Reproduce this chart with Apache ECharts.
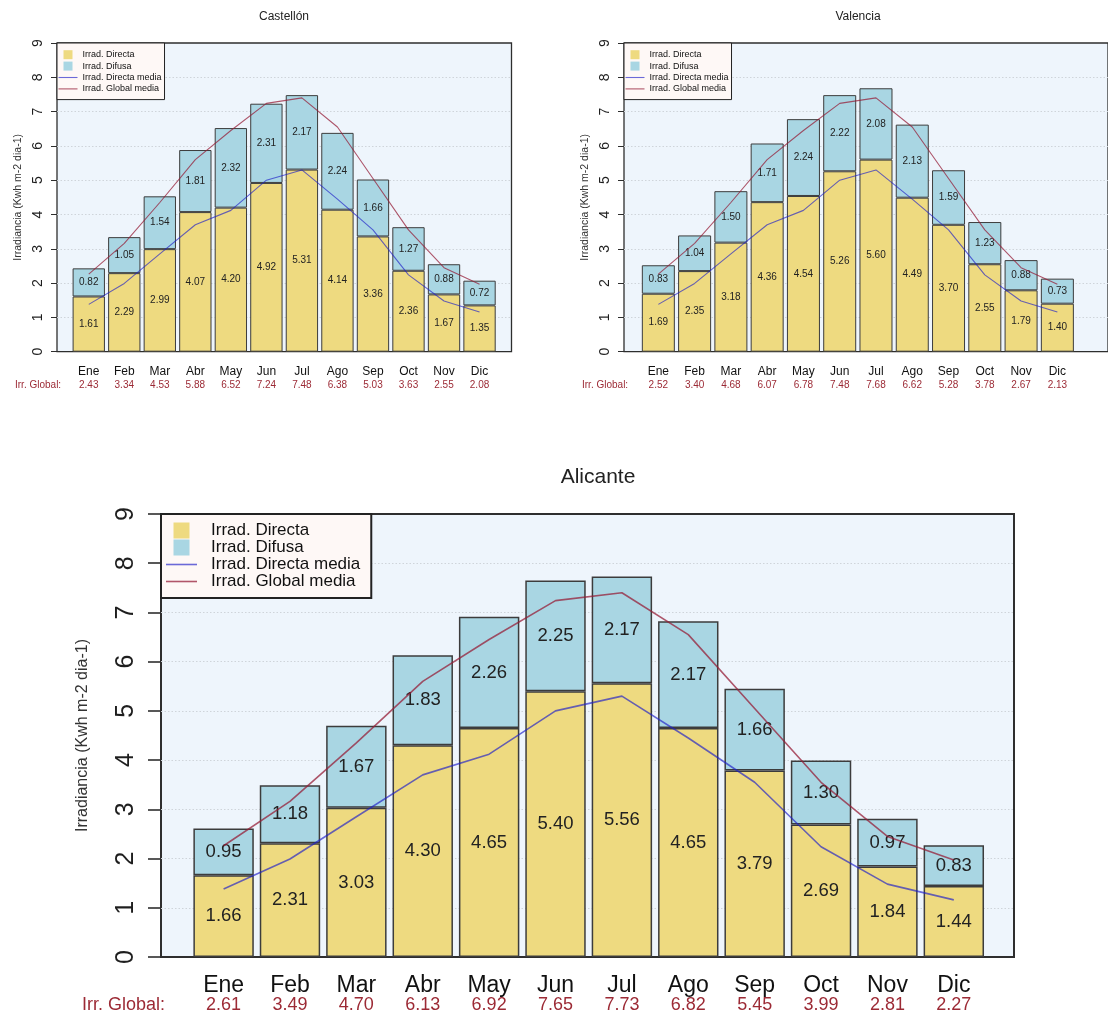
<!DOCTYPE html>
<html>
<head>
<meta charset="utf-8">
<title>Irradiancia mensual</title>
<script src="https://cdn.jsdelivr.net/npm/echarts@6/dist/echarts.min.js"></script>
<style>
  html, body { margin: 0; padding: 0; background: #ffffff; }
  #chart { width: 1108px; height: 1014px; }
</style>
</head>
<body>
<div id="chart"></div>
<script>
// Months shown on the category axis
const months = ['Ene', 'Feb', 'Mar', 'Abr', 'May', 'Jun', 'Jul', 'Ago', 'Sep', 'Oct', 'Nov', 'Dic'];

// Castellón (kWh m-2 día-1)
const castellonDirecta = [1.61, 2.29, 2.99, 4.07, 4.20, 4.92, 5.31, 4.14, 3.36, 2.36, 1.67, 1.35];
const castellonDifusa  = [0.82, 1.05, 1.54, 1.81, 2.32, 2.31, 2.17, 2.24, 1.66, 1.27, 0.88, 0.72];
const castellonGlobal  = [2.43, 3.34, 4.53, 5.88, 6.52, 7.24, 7.48, 6.38, 5.03, 3.63, 2.55, 2.08];

// Valencia
const valenciaDirecta = [1.69, 2.35, 3.18, 4.36, 4.54, 5.26, 5.60, 4.49, 3.70, 2.55, 1.79, 1.40];
const valenciaDifusa  = [0.83, 1.04, 1.50, 1.71, 2.24, 2.22, 2.08, 2.13, 1.59, 1.23, 0.88, 0.73];
const valenciaGlobal  = [2.52, 3.40, 4.68, 6.07, 6.78, 7.48, 7.68, 6.62, 5.28, 3.78, 2.67, 2.13];

// Alicante
const alicanteDirecta = [1.66, 2.31, 3.03, 4.30, 4.65, 5.40, 5.56, 4.65, 3.79, 2.69, 1.84, 1.44];
const alicanteDifusa  = [0.95, 1.18, 1.67, 1.83, 2.26, 2.25, 2.17, 2.17, 1.66, 1.30, 0.97, 0.83];
const alicanteGlobal  = [2.61, 3.49, 4.70, 6.13, 6.92, 7.65, 7.73, 6.82, 5.45, 3.99, 2.81, 2.27];

// Regional mean curves drawn over every panel
const directaMedia = [1.38, 1.99, 2.85, 3.70, 4.12, 5.00, 5.30, 4.45, 3.55, 2.24, 1.48, 1.16];
const globalMedia  = [2.26, 3.16, 4.35, 5.60, 6.45, 7.24, 7.40, 6.55, 5.05, 3.55, 2.45, 1.97];

const FONT = "'Liberation Sans', Arial, Helvetica, sans-serif";
const COL_DIRECTA = '#EEDA80';
const COL_DIFUSA = '#A9D6E3';
const COL_LINE_DIRECTA = 'rgba(30,30,200,0.66)';
const COL_LINE_GLOBAL = 'rgba(150,30,55,0.74)';
const COL_GLOBAL_TEXT = '#9C2A35';

// Type sizes for the two panel scales
const small = {
  title: 12, yLabel: 14, yLabelMargin: 12, yName: 10.5, yNameGap: 33, tick: 6,
  month: 12, monthLH: 14, glob: 10, globLH: 12.6, xMargin: 13,
  value: 10, legend: 9, legendLH: 11.4, legendIconW: 19, legendIconH: 9,
  legendPad: [6, 3, 5, 1.5], legendTextPad: 0, legendBorder: 1,
  frameBorder: 1.3, barBorder: 1, lineW: 1.1
};
const large = {
  title: 21, yLabel: 25, yLabelMargin: 22, yName: 16, yNameGap: 70, tick: 13,
  month: 23, monthLH: 20, glob: 18, globLH: 18, xMargin: 19,
  value: 18.5, legend: 17, legendLH: 16.5, legendIconW: 31, legendIconH: 16,
  legendPad: [8, 11, 8, 5], legendTextPad: 9, legendBorder: 2,
  frameBorder: 2, barBorder: 1.5, lineW: 1.6
};

// Panel placement: plot frame and the span occupied by the twelve bars
const panels = [
  { title: 'Castellón', directa: castellonDirecta, difusa: castellonDifusa, global: castellonGlobal,
    box: { l: 57, t: 43, r: 511.5, b: 351.7 }, bars: { l: 71, r: 497.3 },
    titlePos: [284, 17], globLabelX: 15, st: small },
  { title: 'Valencia', directa: valenciaDirecta, difusa: valenciaDifusa, global: valenciaGlobal,
    box: { l: 624, t: 43, r: 1112, b: 351.7 }, bars: { l: 640.2, r: 1075.5 },
    titlePos: [858, 17], globLabelX: 582, st: small },
  { title: 'Alicante', directa: alicanteDirecta, difusa: alicanteDifusa, global: alicanteGlobal,
    box: { l: 161, t: 514, r: 1014, b: 957 }, bars: { l: 190.4, r: 987 },
    titlePos: [598, 477], globLabelX: 82, st: large }
];

const squareIcon = 'path://M0,0H10V10H0Z';
// thin horizontal stroke used as the legend key of the mean curves
const lineIcon = s => 'path://M0,0H' + s.legendIconW + 'V' + s.lineW + 'H0Z';

const option = {
  animation: false,
  backgroundColor: '#ffffff',
  textStyle: { fontFamily: FONT },
  grid: [], xAxis: [], yAxis: [], series: [], legend: [], graphic: []
};

panels.forEach((p, i) => {
  const s = p.st;
  const fi = 2 * i, di = 2 * i + 1;
  const h = p.box.b - p.box.t;

  // Frame grid: background, border, y axis with dotted guides
  option.grid.push({
    left: p.box.l, top: p.box.t, width: p.box.r - p.box.l, height: h,
    show: true, backgroundColor: '#EEF5FC', borderColor: '#2e2e2e', borderWidth: s.frameBorder
  });
  option.xAxis.push({ gridIndex: fi, type: 'value', min: 0, max: 1, show: false });
  option.yAxis.push({
    gridIndex: fi, type: 'value', min: 0, max: 9, interval: 1,
    axisLine: { show: false },
    axisTick: { show: true, inside: false, length: s.tick, lineStyle: { color: '#2e2e2e', width: s.frameBorder * 0.8 } },
    axisLabel: { rotate: 90, fontSize: s.yLabel, color: '#1e1e1e', margin: s.yLabelMargin, fontFamily: FONT },
    splitLine: {
      show: true, showMinLine: false, showMaxLine: false,
      lineStyle: { color: '#cfd4da', type: [1.5, 2], width: 1 }
    },
    name: 'Irradiancia (Kwh m-2 dia-1)', nameLocation: 'middle', nameRotate: 90, nameGap: s.yNameGap,
    nameTextStyle: { fontSize: s.yName, color: '#333', fontFamily: FONT }
  });

  // Data grid: category band holding the bars and mean curves
  option.grid.push({
    left: p.bars.l, top: p.box.t, width: p.bars.r - p.bars.l, height: h
  });
  const glob = p.global;
  option.xAxis.push({
    gridIndex: di, type: 'category', data: months,
    axisLine: { show: false }, axisTick: { show: false },
    axisLabel: {
      interval: 0, margin: s.xMargin, fontFamily: FONT,
      formatter: (v, idx) => '{m|' + v + '}\n{g|' + glob[idx].toFixed(2) + '}',
      rich: {
        m: { fontSize: s.month, lineHeight: s.monthLH, color: '#111', fontFamily: FONT },
        g: { fontSize: s.glob, lineHeight: s.globLH, color: COL_GLOBAL_TEXT, fontFamily: FONT }
      }
    }
  });
  option.yAxis.push({ gridIndex: di, type: 'value', min: 0, max: 9, show: false });

  const valueLabel = {
    show: true, position: 'inside', fontSize: s.value, color: '#222', fontFamily: FONT,
    formatter: d => d.value.toFixed(2)
  };
  option.series.push({
    type: 'bar', name: 'Irrad. Directa', xAxisIndex: di, yAxisIndex: di, stack: 'irr' + i,
    data: p.directa, barCategoryGap: '9%',
    itemStyle: { color: COL_DIRECTA, borderColor: '#3c3c3c', borderWidth: s.barBorder },
    label: valueLabel
  });
  option.series.push({
    type: 'bar', name: 'Irrad. Difusa', xAxisIndex: di, yAxisIndex: di, stack: 'irr' + i,
    data: p.difusa, barCategoryGap: '9%',
    itemStyle: { color: COL_DIFUSA, borderColor: '#3c3c3c', borderWidth: s.barBorder },
    label: valueLabel
  });
  option.series.push({
    type: 'line', name: 'Irrad. Directa media', xAxisIndex: di, yAxisIndex: di,
    data: directaMedia, symbol: 'none', z: 5,
    itemStyle: { color: COL_LINE_DIRECTA },
    lineStyle: { color: COL_LINE_DIRECTA, width: s.lineW }
  });
  option.series.push({
    type: 'line', name: 'Irrad. Global media', xAxisIndex: di, yAxisIndex: di,
    data: globalMedia, symbol: 'none', z: 5,
    itemStyle: { color: COL_LINE_GLOBAL },
    lineStyle: { color: COL_LINE_GLOBAL, width: s.lineW }
  });

  option.legend.push({
    orient: 'vertical', left: p.box.l, top: p.box.t, selectedMode: false,
    backgroundColor: '#FEF8F6', borderColor: '#222', borderWidth: s.legendBorder, borderRadius: 0,
    padding: s.legendPad, itemGap: 0, itemWidth: s.legendIconW, itemHeight: s.legendIconH,
    symbolKeepAspect: true,
    itemStyle: { borderWidth: 0 },
    textStyle: {
      fontSize: s.legend, lineHeight: s.legendLH, color: '#111', fontFamily: FONT,
      padding: [0, 0, 0, s.legendTextPad]
    },
    data: [
      { name: 'Irrad. Directa', icon: squareIcon },
      { name: 'Irrad. Difusa', icon: squareIcon },
      { name: 'Irrad. Directa media', icon: lineIcon(s), itemStyle: { color: COL_LINE_DIRECTA } },
      { name: 'Irrad. Global media', icon: lineIcon(s), itemStyle: { color: COL_LINE_GLOBAL } }
    ]
  });

  option.graphic.push({
    type: 'text', x: p.titlePos[0], y: p.titlePos[1], silent: true,
    style: { text: p.title, font: s.title + 'px ' + FONT, fill: '#222', textAlign: 'center', textVerticalAlign: 'middle' }
  });
  option.graphic.push({
    type: 'text', x: p.globLabelX,
    y: p.box.b + s.xMargin + s.monthLH + s.globLH / 2, silent: true,
    style: { text: 'Irr. Global:', font: s.glob + 'px ' + FONT, fill: COL_GLOBAL_TEXT, textAlign: 'left', textVerticalAlign: 'middle' }
  });
});

const chart = echarts.init(document.getElementById('chart'), null, { renderer: 'canvas' });
chart.setOption(option);
</script>
</body>
</html>
